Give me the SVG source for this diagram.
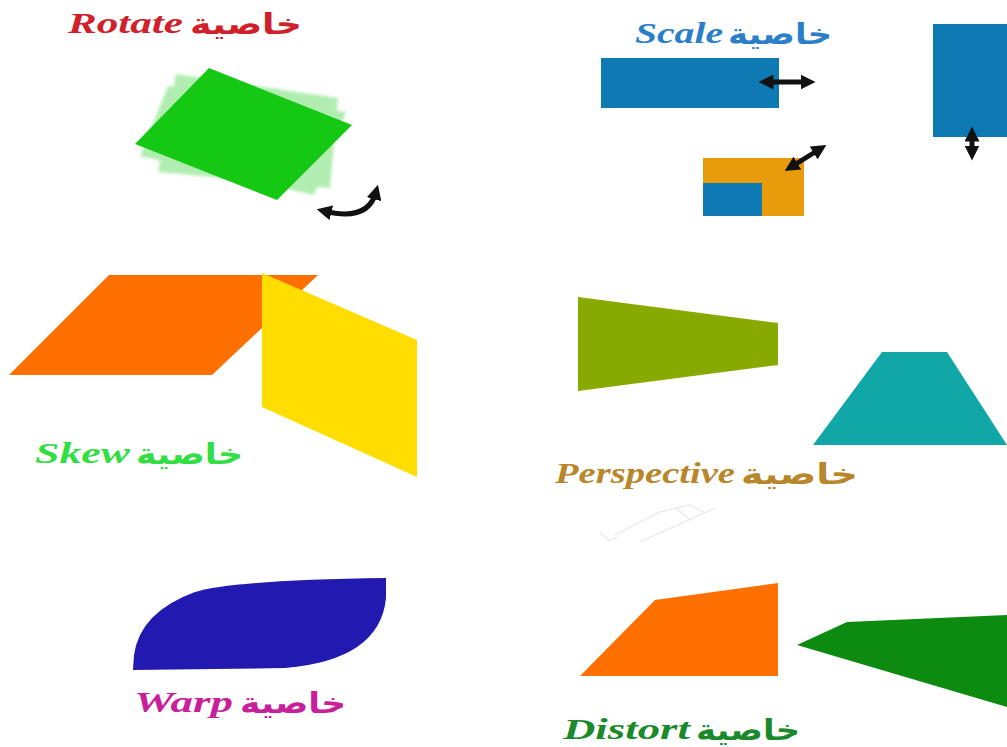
<svg xmlns="http://www.w3.org/2000/svg" width="1007" height="747" viewBox="0 0 1007 747">
<defs>
<marker id="ah" viewBox="0 0 10 10" refX="5" refY="5" markerWidth="3" markerHeight="3" orient="auto-start-reverse" markerUnits="strokeWidth">
<path d="M0,0 L10,5 L0,10 Z" fill="#111"/>
</marker>
<filter id="blur" x="-20%" y="-20%" width="140%" height="140%"><feGaussianBlur stdDeviation="1.5"/></filter>
</defs>
<style>
.lat{font-family:"Liberation Serif",serif;font-weight:bold;font-style:italic;font-size:30px}
.ar{font-family:"DejaVu Sans",sans-serif;font-weight:bold;font-size:29px}
.arr{fill:none;stroke:#111;stroke-width:5}
</style>
<rect width="1007" height="747" fill="#ffffff"/>

<g id="rotate">
<text class="lat" x="68" y="33" fill="#d0202a" textLength="115" lengthAdjust="spacingAndGlyphs">Rotate</text>
<text class="ar" x="190" y="34" fill="#d0202a" textLength="112" lengthAdjust="spacingAndGlyphs">خاصية</text>
<g filter="url(#blur)" opacity="0.35">
<polygon points="176,74 338,98 330,188 158,172" fill="#22cc22"/>
<polygon points="168,86 346,112 314,195 140,156" fill="#22cc22"/>
</g>
<polygon points="209,68 352,125 277,200 135,144" fill="#14c814"/>
</g>

<g id="scale">
<text class="lat" x="635" y="43" fill="#2a7fc8" textLength="88" lengthAdjust="spacingAndGlyphs">Scale</text>
<text class="ar" x="728" y="44" fill="#2a7fc8" textLength="104" lengthAdjust="spacingAndGlyphs">خاصية</text>
<rect x="601" y="58" width="178" height="50" fill="#0e7ab3"/>
<rect x="933" y="24" width="74" height="113" fill="#0e7ab3"/>
<rect x="703" y="158" width="101" height="58" fill="#e89c0c"/>
<rect x="703" y="183" width="59" height="33" fill="#0e7ab3"/>
</g>

<g id="skew">
<polygon points="109,275 318,275 212,375 9,375" fill="#ff7000"/>
<polygon points="262,273 417,340 417,477 262,407" fill="#ffdd00"/>
<text class="lat" x="35" y="463" fill="#33dd44" textLength="95" lengthAdjust="spacingAndGlyphs">Skew</text>
<text class="ar" x="136" y="464" fill="#33dd44" textLength="107" lengthAdjust="spacingAndGlyphs">خاصية</text>
</g>

<g id="perspective">
<polygon points="578,297 778,323 778,365 578,391" fill="#88aa00"/>
<polygon points="882,352 947,352 1007,445 813,445" fill="#10a7a6"/>
<text class="lat" x="555" y="483" fill="#b8862b" textLength="180" lengthAdjust="spacingAndGlyphs">Perspective</text>
<text class="ar" x="741" y="484" fill="#b8862b" textLength="117" lengthAdjust="spacingAndGlyphs">خاصية</text>
</g>

<g id="watermark" fill="none" stroke="#e6e6e6" stroke-width="1.2">
<path d="M615,535 L660,512 M660,512 L690,505 M690,505 L705,513 M676,508 L690,520 M640,542 L715,508 M600,532 L608,540 L618,538"/>
</g>

<g id="warp">
<path d="M386,578 L386,598 Q380,660 285,668 L133,670 L134,655 Q140,612 195,592 Q235,580 386,578 Z" fill="#2219b0"/>
<text class="lat" x="134" y="712" fill="#c8209a" textLength="99" lengthAdjust="spacingAndGlyphs">Warp</text>
<text class="ar" x="240" y="713" fill="#c8209a" textLength="106" lengthAdjust="spacingAndGlyphs">خاصية</text>
</g>

<g id="distort">
<polygon points="655,600 778,583 778,676 580,676" fill="#ff7000"/>
<polygon points="797,645 847,622 1007,615 1007,707" fill="#0d8a10"/>
<text class="lat" x="563" y="739" fill="#1a8a2a" textLength="127" lengthAdjust="spacingAndGlyphs">Distort</text>
<text class="ar" x="696" y="740" fill="#1a8a2a" textLength="104" lengthAdjust="spacingAndGlyphs">خاصية</text>
</g>

<g id="connectors">
<path class="arr" d="M324,211 Q368,222 376,192" stroke-width="3" marker-start="url(#ah)" marker-end="url(#ah)"/>
<path class="arr" d="M766,82 L808,82" marker-start="url(#ah)" marker-end="url(#ah)"/>
<path class="arr" d="M972,134 L972,153" marker-start="url(#ah)" marker-end="url(#ah)"/>
<path class="arr" d="M791,167 L820,149" marker-start="url(#ah)" marker-end="url(#ah)"/>
</g>
</svg>
